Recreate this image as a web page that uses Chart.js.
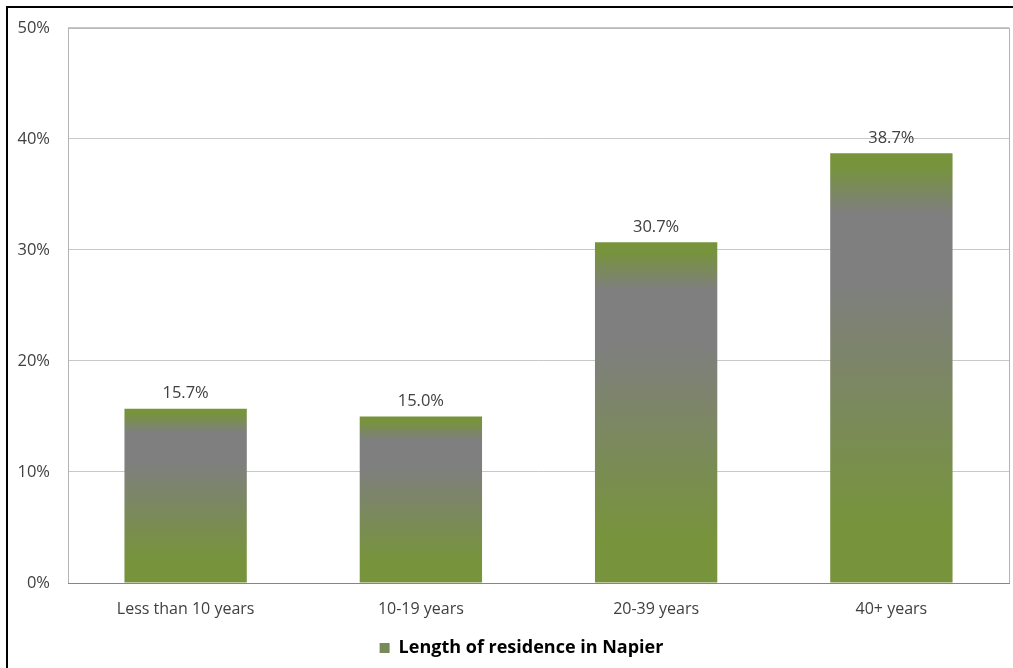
<!DOCTYPE html>
<html>
<head>
<meta charset="utf-8">
<script src="https://cdn.jsdelivr.net/npm/chart.js@4"></script>
<style>
  body { margin: 0; background: #fff; }
  #wrap { width: 1013px; height: 668px; position: relative; }
</style>
</head>
<body>
<div id="wrap"><canvas id="chart" width="1013" height="668"></canvas></div>
<script>
// --- data ---
const categories = ["Less than 10 years", "10-19 years", "20-39 years", "40+ years"];
const residence = [15.7, 15.0, 30.7, 38.7];
const seriesName = "Length of residence in Napier";
const yTicks = [0, 10, 20, 30, 40, 50];

const GREEN = "#77933C";
const GREY = "#7F7F7F";
const TEXT = "#404040";
const FONT = "'Open Sans', 'DejaVu Sans', sans-serif";

// vertical gradient for each bar: green top, grey band, back to green at the base
function barFill(ctx) {
    const chart = ctx.chart;
    if (!chart.chartArea || ctx.dataIndex === undefined) return GREEN;
    const y = chart.scales.y;
    const top = y.getPixelForValue(residence[ctx.dataIndex]);
    const bottom = y.getPixelForValue(0);
    const g = chart.ctx.createLinearGradient(0, top, 0, bottom);
    g.addColorStop(0, GREEN);
    g.addColorStop(0.03, GREEN);
    g.addColorStop(0.14, GREY);
    g.addColorStop(0.3, GREY);
    g.addColorStop(0.86, GREEN);
    g.addColorStop(1, GREEN);
    return g;
}

// frame, plot border and value labels
const extras = {
    id: "extras",
    beforeDraw(chart) {
        const c = chart.ctx;
        c.save();
        c.fillStyle = "#fff";
        c.fillRect(0, 0, chart.width, chart.height);
        c.restore();
    },
    afterLayout(chart) {
        // legend sits a little right of centre in the original
        if (chart.legend) {
            chart.legend.left += 17;
            chart.legend.right += 17;
        }
    },
    afterDatasetsDraw(chart) {
        const c = chart.ctx;
        const a = chart.chartArea;
        c.save();
        c.strokeStyle = "#B3B3B3";
        c.lineWidth = 1;
        c.strokeRect(a.left + 0.5, a.top + 0.5, a.right - a.left, a.bottom - a.top);
        c.strokeStyle = "#868686";
        c.beginPath();
        c.moveTo(a.left, a.bottom + 0.5);
        c.lineTo(a.right + 1, a.bottom + 0.5);
        c.stroke();

        // outer frame (top and left edges visible)
        c.strokeStyle = "#000";
        c.lineWidth = 2;
        c.beginPath();
        c.moveTo(chart.width, 7);
        c.lineTo(7, 7);
        c.lineTo(7, chart.height);
        c.stroke();

        c.fillStyle = TEXT;
        c.font = "16.5px " + FONT;
        c.textAlign = "center";
        c.textBaseline = "bottom";
        chart.getDatasetMeta(0).data.forEach((bar, i) => {
            c.fillText(residence[i].toFixed(1) + "%", bar.x, bar.y - 7);
        });
        c.restore();
    }
};

new Chart(document.getElementById("chart"), {
    type: "bar",
    data: {
        labels: categories,
        datasets: [{
            label: seriesName,
            data: residence,
            backgroundColor: barFill,
            borderWidth: 0,
            barPercentage: 0.52,
            categoryPercentage: 1
        }]
    },
    options: {
        responsive: false,
        animation: false,
        layout: { padding: { left: 0, top: 27, right: 4, bottom: 1 } },
        scales: {
            x: {
                grid: { display: false },
                border: { display: false },
                ticks: { color: TEXT, font: { family: FONT, size: 16 }, padding: 9 },
                afterFit: s => { s.height = 46; }
            },
            y: {
                min: 0,
                max: 50,
                afterBuildTicks: s => { s.ticks = yTicks.map(v => ({ value: v })); },
                grid: { color: "#C8C8C8", drawTicks: false },
                border: { display: false },
                ticks: {
                    color: TEXT,
                    font: { family: FONT, size: 16.5 },
                    padding: 18,
                    callback: v => v + "%"
                },
                afterFit: s => { s.width = 68; }
            }
        },
        plugins: {
            tooltip: { enabled: false },
            legend: {
                position: "bottom",
                labels: {
                    color: "#1a1a1a",
                    font: { family: FONT, size: 18, weight: "bold" },
                    boxWidth: 10,
                    boxHeight: 10,
                    padding: 10,
                    generateLabels: () => [{
                        text: seriesName,
                        fillStyle: "#788A5A",
                        strokeStyle: "#788A5A",
                        lineWidth: 0,
                        datasetIndex: 0
                    }]
                }
            }
        }
    },
    plugins: [extras]
});
</script>
</body>
</html>
